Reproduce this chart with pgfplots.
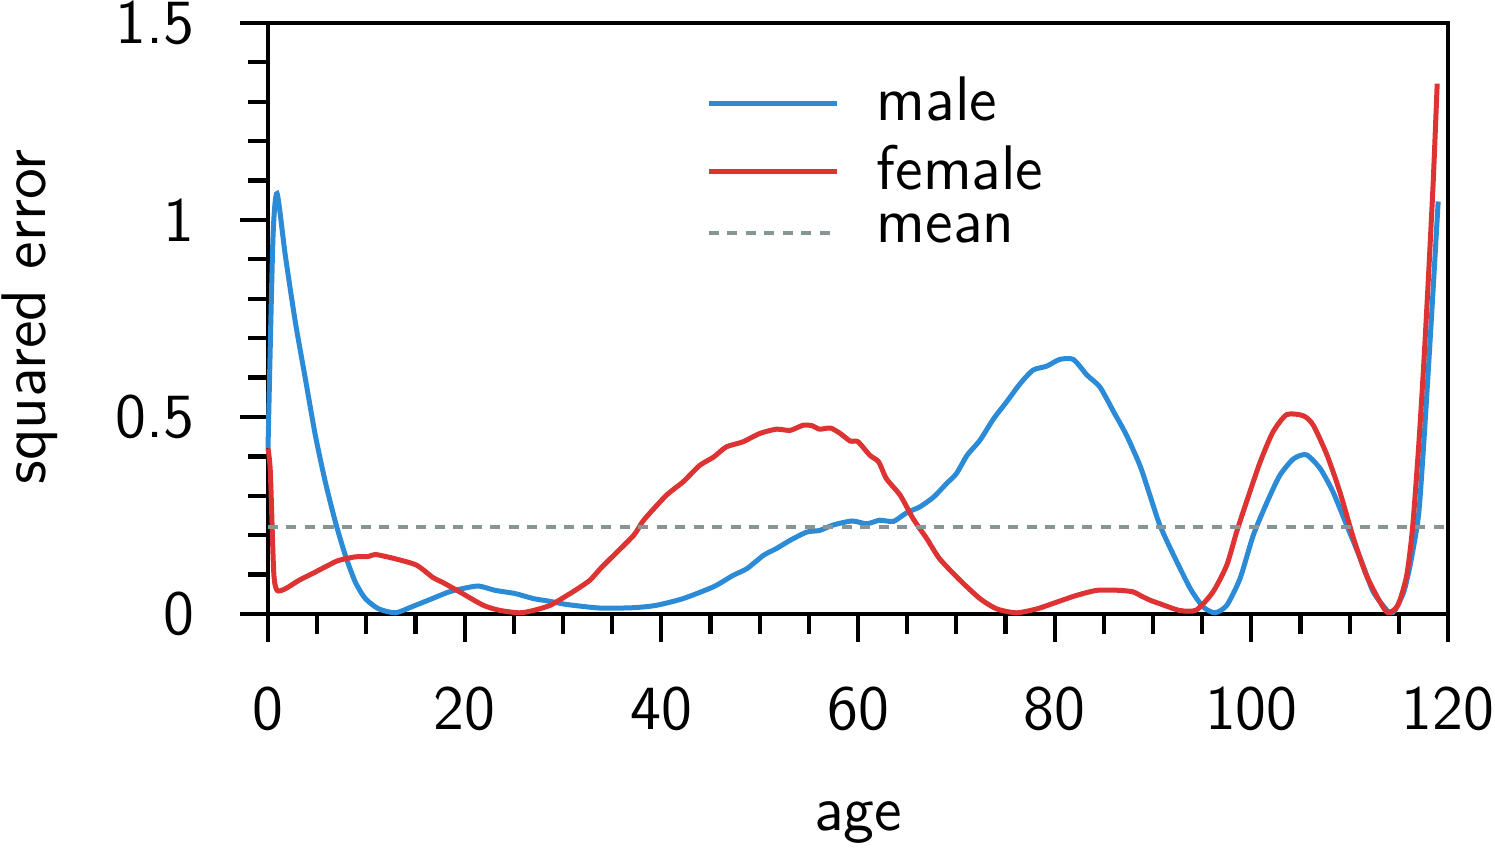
\documentclass[border=0pt]{standalone}
\usepackage{pgfplots}
\pgfplotsset{compat=1.18}
\renewcommand{\familydefault}{\sfdefault}
\definecolor{cblue}{RGB}{44,139,214}
\definecolor{cred}{RGB}{221,51,51}
\definecolor{cgrey}{RGB}{134,150,150}
\newcommand{\myfont}{\fontsize{12.6}{15}\selectfont\sffamily}
\begin{document}
\myfont
\begin{tikzpicture}
\begin{axis}[
  name=ax,
  scale only axis,
  width=236pt, height=118.2pt,
  xmin=0, xmax=120, ymin=0, ymax=1.5,
  axis line style={line width=0.85pt},
  every tick/.style={black, line width=0.85pt},
  tick align=outside,
  xtick pos=bottom, ytick pos=left,
  major tick length=5.6pt, minor tick length=4pt,
  xtick={0,20,...,120}, minor x tick num=3,
  ytick={0,0.5,1,1.5}, minor y tick num=4,
  /pgf/number format/assume math mode=true,
  tick label style={font=\myfont},
  yticklabel style={xshift=-4.7pt},
  xticklabel style={yshift=-4.5pt},
  xlabel={age},
  ylabel={squared error},
  label style={font=\myfont},
  xlabel style={at={(axis description cs:0.5,-0.367)}, anchor=base},
  ylabel style={at={(axis description cs:-0.2017,0.5025)}, anchor=center},
  legend style={draw=none, fill=none, font=\myfont, row sep=0pt, nodes={inner ysep=1.5pt},
    at={(axis description cs:0.358,0.94)}, anchor=north west, cells={anchor=west}},
  legend image code/.code={\path[draw=none,fill=none] (0pt,0pt) rectangle (31.6pt,0pt);\draw[#1] (0pt,0pt) -- (25.6pt,0pt);},
  clip=false,
]
\addplot[cblue, line width=1pt, smooth, tension=0.4] coordinates {
(0,0.42) (0.5,0.95) (0.92,1.067) (1.76,0.91) (2.78,0.741) (3.8,0.597) (4.81,0.454)
(5.83,0.335) (6.85,0.234) (7.86,0.149) (8.88,0.081) (9.9,0.039) (11.26,0.013)
(12.95,0.003) (14.6,0.018) (16.3,0.035) (18.4,0.056) (19.7,0.064) (21.4,0.071)
(23.1,0.06) (25.1,0.052) (27.0,0.039) (28.7,0.032) (30.4,0.024) (33.8,0.015)
(37.2,0.016) (39.5,0.022) (42.2,0.039) (45.3,0.069) (47.3,0.098) (48.7,0.115)
(50.4,0.149) (51.7,0.166) (53.1,0.187) (54.8,0.208) (56.1,0.212) (57.5,0.226)
(59.4,0.236) (60.9,0.229) (62.2,0.238) (63.6,0.235) (64.95,0.257) (66.3,0.272)
(67.7,0.297) (69.0,0.331) (70.0,0.356) (71.1,0.403) (72.4,0.441) (73.8,0.496)
(75.1,0.538) (76.5,0.585) (77.8,0.619) (79.2,0.629) (80.5,0.646) (81.9,0.646)
(83.3,0.606) (84.6,0.576) (86.0,0.513) (87.3,0.454) (88.7,0.375) (89.7,0.30)
(90.7,0.225) (92.1,0.149) (93.8,0.064) (95.1,0.018) (96.3,0.003) (97.5,0.022)
(98.85,0.09) (100.2,0.2) (101.6,0.284) (102.9,0.352) (104.3,0.394) (105.6,0.404)
(107.0,0.369) (108.3,0.31) (109.7,0.225) (111.1,0.14) (112.4,0.056) (113.8,0.009)
(114.2,0.003) (114.6,0.009) (115.5,0.056) (116.2,0.13) (117.0,0.25) (117.5,0.42)
(118.0,0.62) (118.5,0.83) (119,1.047)
};
\addlegendentry{male}
\addplot[cred, line width=1pt, smooth, tension=0.4] coordinates {
(0,0.42) (0.24,0.36) (0.58,0.107) (0.92,0.06) (1.76,0.064) (3.12,0.085) (4.47,0.102)
(6.17,0.124) (7.19,0.136) (8.88,0.145) (10.24,0.146) (10.92,0.151) (12.95,0.14)
(15.1,0.124) (16.8,0.092) (17.7,0.081) (19.5,0.056) (21.9,0.022) (23.6,0.009)
(25.6,0.003) (27.0,0.009) (28.7,0.022) (30.4,0.047) (31.0,0.056) (32.7,0.085)
(33.8,0.115) (34.8,0.14) (37.2,0.2) (38.2,0.238) (40.5,0.301) (42.2,0.335)
(43.9,0.377) (45.3,0.398) (46.6,0.424) (48.3,0.437) (50.0,0.458) (51.7,0.469)
(53.1,0.466) (54.4,0.479) (55.3,0.478) (56.1,0.469) (57.2,0.472) (58.2,0.458)
(59.2,0.439) (60.0,0.437) (61.2,0.403) (62.1,0.386) (62.9,0.343) (64.3,0.301)
(65.6,0.242) (67.0,0.191) (68.3,0.14) (70.4,0.085) (72.4,0.039) (74.1,0.013)
(76.1,0.003) (78.2,0.013) (80.2,0.03) (82.2,0.047) (84.3,0.06) (86.6,0.06)
(88.0,0.056) (88.7,0.047) (89.7,0.035) (90.7,0.026) (92.7,0.009) (94.4,0.01)
(96.1,0.056) (97.5,0.124) (98.5,0.208) (99.5,0.284) (100.9,0.386) (102.2,0.462)
(103.6,0.506) (105.3,0.503) (106.3,0.479) (107.7,0.403) (109.0,0.31) (110.4,0.191)
(111.7,0.098) (113.1,0.03) (113.9,0.003) (114.9,0.022) (115.8,0.098) (116.4,0.22)
(117.0,0.42) (117.5,0.62) (118.0,0.85) (118.5,1.1) (118.9,1.346)
};
\addlegendentry{female}
\addplot[cgrey, line width=0.9pt, dash pattern=on 2pt off 1.7pt] coordinates {(0,0.2208) (120,0.2208)};
\addlegendentry{mean}
\end{axis}
\pgfresetboundingbox
\useasboundingbox ([xshift=-53.6pt,yshift=-47pt]ax.south west) rectangle ([xshift=9.4pt,yshift=4.6pt]ax.north east);
\end{tikzpicture}
\end{document}
